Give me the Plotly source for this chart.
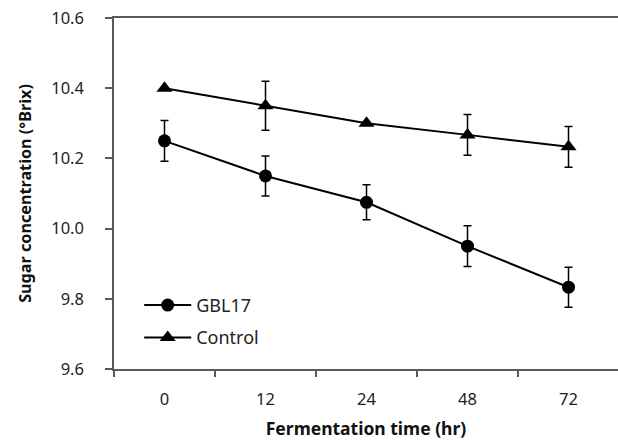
import plotly.graph_objects as go

time_labels = ["0", "12", "24", "48", "72"]
gbl17 = [10.25, 10.15, 10.075, 9.95, 9.833]
gbl17_err = [0.058, 0.057, 0.05, 0.058, 0.057]
control = [10.40, 10.35, 10.30, 10.267, 10.233]
control_err = [0.0, 0.07, 0.0, 0.058, 0.058]

FONT = "Noto Sans"
AX = "#5a5a5a"

fig = go.Figure()
fig.add_trace(go.Scatter(
    x=time_labels, y=gbl17, name="GBL17", mode="lines+markers", legendgroup="a",
    line=dict(color="black", width=2),
    marker=dict(symbol="circle", size=13, color="black"),
    error_y=dict(type="data", array=gbl17_err, visible=True, color="black", thickness=1.5, width=4),
))
fig.add_trace(go.Scatter(
    x=time_labels, y=control, name="Control", mode="lines+markers", legendgroup="b",
    line=dict(color="black", width=2),
    marker=dict(symbol="triangle-up", size=14, color="black"),
    error_y=dict(type="data", array=control_err, visible=True, color="black", thickness=1.5, width=4),
))

fig.update_layout(
    width=618, height=440,
    margin=dict(l=114, r=0, t=18, b=71),
    plot_bgcolor="white", paper_bgcolor="white",
    font=dict(family=FONT, color="#222222"),
    legend=dict(x=0.05, y=0.234, xanchor="left", yanchor="top",
                font=dict(size=18, family=FONT, color="#222222"),
                bgcolor="rgba(0,0,0,0)", tracegroupgap=6, itemwidth=47),
    showlegend=True,
)
fig.update_xaxes(
    type="category", range=[-0.5, 4.49],
    tickson="boundaries", ticks="outside", ticklen=6, tickcolor=AX, tickwidth=1.5,
    showline=True, linecolor=AX, linewidth=1.5, mirror=True,
    showgrid=False, zeroline=False,
    tickfont=dict(size=16.5, family=FONT, color="#222222"),
    ticklabelstandoff=14,
    title=dict(text="<b>Fermentation time (hr)</b>", font=dict(size=17.5, family=FONT, color="#111111"), standoff=16),
)
fig.update_yaxes(
    range=[9.6, 10.6], dtick=0.2, tick0=9.6, tickformat=".1f",
    ticks="outside", ticklen=7, tickcolor=AX, tickwidth=1.5,
    showline=True, linecolor=AX, linewidth=1.5,
    showgrid=False, zeroline=False,
    tickfont=dict(size=16.5, family=FONT, color="#222222"),
    ticklabelstandoff=18,
    title=dict(text="<b>Sugar concentration (°Brix)</b>", font=dict(size=16.2, family=FONT, color="#111111"), standoff=16),
)

fig.write_html("out.html")
